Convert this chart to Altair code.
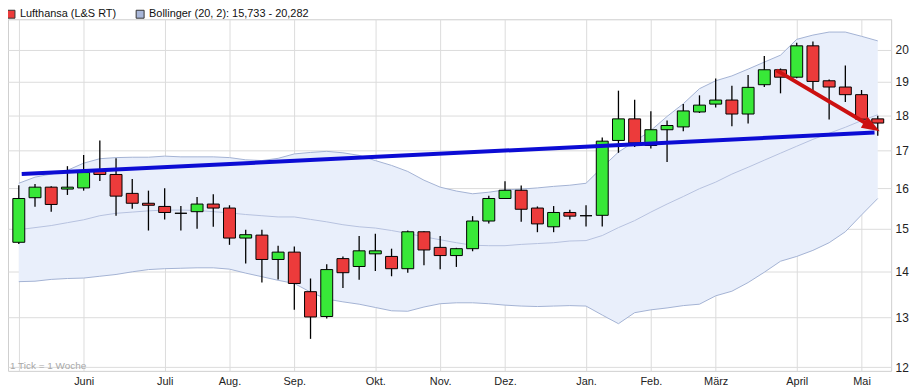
import json
import altair as alt
import pandas as pd

# ---------------- data ----------------
week = list(range(54))
open_ = [14.67, 15.76, 16.03, 15.98, 16.01, 16.46, 16.36, 15.87, 15.62, 15.54,
         15.37, 15.41, 15.60, 15.50, 14.77, 14.84, 14.27, 14.44, 13.55, 13.02,
         14.29, 14.11, 14.40, 14.34, 14.06, 14.92, 14.55, 14.36, 14.52, 15.18,
         15.74, 15.95, 15.50, 15.04, 15.39, 15.31, 15.32, 17.28, 17.89, 17.14,
         17.58, 17.66, 18.09, 18.32, 18.44, 18.03, 18.90, 19.36, 19.13, 20.12,
         19.02, 18.83, 18.60, 17.89]
high = [16.08, 16.11, 16.05, 16.58, 16.88, 17.28, 16.79, 16.24, 15.94, 16.00,
        15.55, 15.78, 15.85, 15.57, 14.97, 14.97, 14.59, 14.57, 13.84, 14.16,
        14.34, 14.82, 14.87, 14.52, 14.95, 14.93, 14.82, 14.54, 15.30, 15.81,
        16.18, 16.07, 15.54, 15.55, 15.46, 15.57, 17.36, 18.72, 18.45, 18.11,
        17.84, 18.32, 18.58, 19.09, 18.87, 19.20, 19.79, 19.40, 20.22, 20.26,
        19.06, 19.49, 18.74, 17.98]
low = [14.63, 15.53, 15.41, 15.83, 15.94, 16.19, 15.31, 15.48, 14.95, 15.22,
       14.95, 14.99, 15.04, 14.61, 14.18, 13.75, 13.82, 13.16, 12.56, 12.98,
       13.63, 13.81, 14.01, 13.89, 13.97, 14.14, 14.05, 14.10, 14.46, 15.12,
       15.74, 15.16, 14.91, 14.91, 15.22, 15.05, 15.05, 16.94, 17.10, 17.06,
       16.69, 17.54, 18.06, 18.22, 17.68, 17.76, 18.83, 18.64, 19.10, 18.72,
       17.87, 18.38, 17.86, 17.41]
close = [15.74, 16.03, 15.59, 16.03, 16.41, 16.36, 15.80, 15.62, 15.57, 15.39,
         15.37, 15.60, 15.50, 14.77, 14.85, 14.27, 14.44, 13.73, 13.01, 14.04,
         13.97, 14.47, 14.47, 14.06, 14.92, 14.49, 14.36, 14.52, 15.18, 15.74,
         15.95, 15.47, 15.11, 15.39, 15.30, 15.31, 17.26, 17.89, 17.21, 17.58,
         17.70, 18.12, 18.29, 18.44, 18.03, 18.82, 19.36, 19.13, 20.12, 19.00,
         18.83, 18.60, 17.88, 17.77]

bb_upper = [16.13, 16.29, 16.37, 16.47, 16.66, 16.78, 16.81, 16.82, 16.82, 16.85,
            16.83, 16.83, 16.83, 16.81, 16.75, 16.73, 16.79, 16.91, 16.95, 16.98,
            16.94, 16.87, 16.73, 16.60, 16.44, 16.21, 16.03, 15.93, 15.86, 15.90,
            15.96, 15.98, 16.01, 16.05, 16.08, 16.13, 16.55, 16.96, 17.25, 17.56,
            17.96, 18.33, 18.78, 19.02, 19.17, 19.38, 19.60, 19.82, 20.33, 20.47,
            20.57, 20.57, 20.43, 20.28]
bb_mid = [14.97, 15.02, 15.07, 15.14, 15.21, 15.31, 15.37, 15.40, 15.43, 15.45,
          15.45, 15.44, 15.41, 15.38, 15.34, 15.31, 15.28, 15.28, 15.22, 15.16,
          15.09, 15.04, 15.01, 14.95, 14.88, 14.80, 14.73, 14.66, 14.60, 14.59,
          14.59, 14.62, 14.64, 14.66, 14.70, 14.71, 14.83, 15.02, 15.19, 15.40,
          15.60, 15.79, 15.99, 16.16, 16.37, 16.55, 16.74, 16.93, 17.12, 17.31,
          17.48, 17.65, 17.84, 18.01]
bb_lower = [13.77, 13.78, 13.82, 13.84, 13.85, 13.89, 13.93, 13.99, 14.04, 14.06,
            14.07, 14.08, 14.08, 14.05, 13.96, 13.88, 13.80, 13.73, 13.54, 13.39,
            13.33, 13.28, 13.21, 13.14, 13.13, 13.22, 13.29, 13.31, 13.31, 13.29,
            13.26, 13.24, 13.23, 13.24, 13.25, 13.24, 13.05, 12.87, 13.10, 13.16,
            13.20, 13.25, 13.28, 13.46, 13.56, 13.75, 13.98, 14.23, 14.34, 14.48,
            14.66, 14.92, 15.33, 15.74]

month_ticks = [0, 4, 9, 13, 17, 22, 26, 30, 35, 39, 43, 48, 52]
month_labels = ["", "Juni", "Juli", "Aug.", "Sep.", "Okt.", "Nov.", "Dez.",
                "Jan.", "Feb.", "März", "April", "Mai"]
y_ticks = [12, 13, 14, 15, 16, 17, 18, 19, 20, 21]

trend_x = [0.18, 52.8]
trend_y = [16.37, 17.50]
arrow_x = [46.76, 52.64]
arrow_y = [19.34, 17.665]
head_x = [52.64]
head_y = [17.665]

legend_names = ["Lufthansa (L&S RT)", "Bollinger (20, 2): 15,733 - 20,282"]
note_text = "1 Tick = 1 Woche"

# ---------------- styling ----------------
GREEN = "#38e838"
RED = "#ec3b3b"
BAND_FILL = "#e9effb"
BAND_LINE = "#a3b2d4"
MID_LINE = "#b6c2df"
FONT = "Liberation Sans"
ARROW_SHAPE = "M 1 0 L -1 -0.72 L -1 0.72 Z"

def direction(o, c):
    if c > o:
        return "up"
    if c < o:
        return "down"
    return "flat"

df = pd.DataFrame({
    "idx": week, "open": open_, "high": high, "low": low, "close": close,
    "up": bb_upper, "mid": bb_mid, "lo": bb_lower,
})
df["dir"] = [direction(o, c) for o, c in zip(open_, close)]

trend_df = pd.DataFrame({"idx": trend_x, "val": trend_y})
arrow_df = pd.DataFrame({"idx": arrow_x, "val": arrow_y})
head_df = pd.DataFrame({"idx": head_x, "val": head_y})
one = pd.DataFrame({"k": [0]})

x_scale = alt.Scale(domain=[-0.36, 53.52], nice=False, zero=False)
y_scale = alt.Scale(type="log", domain=[11.93, 21], nice=False, zero=False)

label_expr = "{}[indexof({}, datum.value)]".format(
    json.dumps(month_labels, ensure_ascii=False), json.dumps(month_ticks))
x_axis = alt.Axis(values=month_ticks, labelExpr=label_expr, ticks=False,
                  domain=False, grid=True, labelPadding=5, labelFont=FONT,
                  labelFontSize=11, labelColor="#222222", title=None,
                  labelFlush=False)
y_axis = alt.Axis(orient="right", values=y_ticks, format="d",
                  labelExpr="datum.value == 21 ? '' : datum.label",
                  ticks=False, domain=False, grid=True, labelPadding=4,
                  labelFont=FONT, labelFontSize=12, labelColor="#222222",
                  title=None)


def X(field):
    return alt.X(f"{field}:Q", scale=x_scale, axis=x_axis, title=None)


def Y(field):
    return alt.Y(f"{field}:Q", scale=y_scale, axis=y_axis, title=None)


base = alt.Chart(df)

band = base.mark_area(color=BAND_FILL, opacity=1).encode(
    x=X("idx"), y=Y("up"), y2=alt.Y2("lo"))
upper_line = base.mark_line(color=BAND_LINE, strokeWidth=1).encode(
    x=X("idx"), y=Y("up"))
lower_line = base.mark_line(color=BAND_LINE, strokeWidth=1).encode(
    x=X("idx"), y=Y("lo"))
mid_line = base.mark_line(color=MID_LINE, strokeWidth=1).encode(
    x=X("idx"), y=Y("mid"))

wicks = base.mark_rule(color="black", strokeWidth=1.3).encode(
    x=X("idx"), y=Y("low"), y2=alt.Y2("high"))
bodies = base.mark_bar(size=12, stroke="black", strokeWidth=1).encode(
    x=X("idx"), y=Y("open"), y2=alt.Y2("close"),
    fill=alt.Fill("dir:N", scale=alt.Scale(domain=["up", "down", "flat"],
                                           range=[GREEN, RED, "black"]),
                  legend=None))

trend = alt.Chart(trend_df).mark_line(color="#0c0cd4", strokeWidth=4).encode(
    x=X("idx"), y=Y("val"))
arrow = alt.Chart(arrow_df).mark_line(color="#cc1010", strokeWidth=4).encode(
    x=X("idx"), y=Y("val"))
head = alt.Chart(head_df).mark_point(shape=ARROW_SHAPE, size=330,
                                     filled=True, color="#cc1010", opacity=1,
                                     angle=30).encode(x=X("idx"), y=Y("val"))

leg_sq1 = alt.Chart(one).mark_square(size=64, fill=RED, stroke="#333333",
                                     strokeWidth=1, opacity=1).encode(
    x=alt.value(3), y=alt.value(-5))
leg_tx1 = alt.Chart(one).mark_text(text=legend_names[0], align="left",
                                   baseline="middle", font=FONT, fontSize=11,
                                   color="#111111").encode(
    x=alt.value(12), y=alt.value(-5))
leg_sq2 = alt.Chart(one).mark_square(size=64, fill="#a9b7d9", stroke="#333333",
                                     strokeWidth=1, opacity=1).encode(
    x=alt.value(133), y=alt.value(-5))
leg_tx2 = alt.Chart(one).mark_text(text=legend_names[1], align="left",
                                   baseline="middle", font=FONT, fontSize=11,
                                   color="#111111").encode(
    x=alt.value(142), y=alt.value(-5))
note = alt.Chart(one).mark_text(text=note_text, align="left",
                                baseline="middle", font=FONT, fontSize=10,
                                color="#a8a8a8").encode(
    x=alt.value(2), y=alt.value(349))

chart = alt.layer(
    band, upper_line, lower_line, mid_line, wicks, bodies, trend, arrow, head,
    leg_sq1, leg_tx1, leg_sq2, leg_tx2, note,
).properties(
    width=889, height=354,
    autosize=alt.AutoSizeParams(type="none"),
    padding={"left": 0, "top": 10, "right": 23, "bottom": 18},
    background="white",
).configure_view(
    stroke="#cfcfcf", strokeWidth=1,
).configure_axis(
    gridColor="#dcdcdc", gridWidth=1,
)

chart.save("out.html", embed_options={"renderer": "svg", "actions": False})
